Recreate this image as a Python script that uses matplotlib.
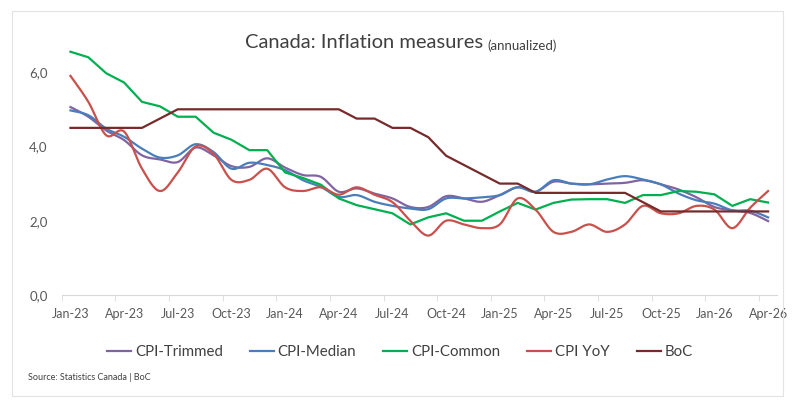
import numpy as np
import matplotlib
matplotlib.use('Agg')
import matplotlib.pyplot as plt
from matplotlib.patches import Rectangle

plt.rcParams['font.family'] = ['Lato', 'DejaVu Sans']

# monthly observations, Jan-23 .. Apr-26
months = np.arange(40)
tick_labels = ['Jan-23', 'Apr-23', 'Jul-23', 'Oct-23', 'Jan-24', 'Apr-24', 'Jul-24',
               'Oct-24', 'Jan-25', 'Apr-25', 'Jul-25', 'Oct-25', 'Jan-26', 'Apr-26']

cpi_trimmed = [5.06, 4.80, 4.43, 4.17, 3.76, 3.65, 3.58, 3.97, 3.76, 3.47,
               3.45, 3.68, 3.43, 3.23, 3.18, 2.78, 2.87, 2.73, 2.60, 2.37,
               2.37, 2.66, 2.60, 2.51, 2.69, 2.90, 2.78, 3.05, 3.00, 2.98,
               3.00, 3.02, 3.09, 2.98, 2.84, 2.63, 2.37, 2.28, 2.21, 1.99]
cpi_median = [4.97, 4.84, 4.48, 4.26, 3.94, 3.70, 3.76, 4.06, 3.85, 3.40,
              3.56, 3.50, 3.36, 3.09, 2.91, 2.64, 2.69, 2.51, 2.40, 2.33,
              2.31, 2.60, 2.60, 2.63, 2.69, 2.90, 2.78, 3.09, 3.00, 2.98,
              3.11, 3.20, 3.11, 2.98, 2.73, 2.55, 2.46, 2.28, 2.27, 2.09]
cpi_common = [6.55, 6.40, 5.97, 5.72, 5.20, 5.08, 4.80, 4.80, 4.37, 4.18,
              3.90, 3.90, 3.30, 3.15, 2.97, 2.60, 2.42, 2.31, 2.20, 1.90,
              2.09, 2.20, 2.00, 2.00, 2.25, 2.48, 2.30, 2.48, 2.57, 2.58,
              2.58, 2.48, 2.69, 2.69, 2.80, 2.78, 2.71, 2.40, 2.58, 2.49]
cpi_yoy = [5.9, 5.2, 4.3, 4.4, 3.4, 2.8, 3.3, 4.0, 3.8, 3.1,
           3.1, 3.4, 2.9, 2.8, 2.9, 2.7, 2.9, 2.7, 2.5, 2.0,
           1.6, 2.0, 1.9, 1.8, 1.9, 2.6, 2.3, 1.7, 1.7, 1.9,
           1.7, 1.9, 2.4, 2.2, 2.2, 2.4, 2.3, 1.8, 2.35, 2.8]
boc = [4.5, 4.5, 4.5, 4.5, 4.5, 4.75, 5.0, 5.0, 5.0, 5.0,
       5.0, 5.0, 5.0, 5.0, 5.0, 5.0, 4.75, 4.75, 4.5, 4.5,
       4.25, 3.75, 3.5, 3.25, 3.0, 3.0, 2.75, 2.75, 2.75, 2.75,
       2.75, 2.75, 2.5, 2.25, 2.25, 2.25, 2.25, 2.25, 2.25, 2.25]


def smooth(x, y, n=16):
    # Excel-style smoothed line (Catmull-Rom through the points)
    x = np.asarray(x, float)
    y = np.asarray(y, float)
    px = np.concatenate(([x[0]], x, [x[-1]]))
    py = np.concatenate(([y[0]], y, [y[-1]]))
    t = np.linspace(0, 1, n, endpoint=False)[:, None]
    xs, ys = [], []
    for p, q in ((px, xs), (py, ys)):
        p0, p1, p2, p3 = p[:-3], p[1:-2], p[2:-1], p[3:]
        c = 0.5 * ((2 * p1) + (-p0 + p2) * t + (2 * p0 - 5 * p1 + 4 * p2 - p3) * t ** 2
                   + (-p0 + 3 * p1 - 3 * p2 + p3) * t ** 3)
        q.extend(c.T.ravel())
        q.append(p[-2])
    return np.array(xs), np.array(ys)


fig = plt.figure(figsize=(8, 4.09), dpi=100)
ax = fig.add_axes([0.0769, 0.2787, 0.8944, 0.6357])

lw = 1.6
ax.plot(*smooth(months, cpi_trimmed), color='#8064a2', lw=lw, label='CPI-Trimmed')
ax.plot(*smooth(months, cpi_median), color='#4a7ebb', lw=lw, label='CPI-Median')
ax.plot(months, cpi_common, color='#00b050', lw=lw, label='CPI-Common')
ax.plot(*smooth(months, cpi_yoy), color='#c9504b', lw=lw, label='CPI YoY')
ax.plot(months, boc, color='#772a2a', lw=lw, label='BoC')

ax.set_xlim(-0.5, 39.5)
ax.set_ylim(0, 7)
for s in ['top', 'right', 'left']:
    ax.spines[s].set_visible(False)
ax.spines['bottom'].set_color('#d9d9d9')

ax.set_yticks([0, 2, 4, 6])
ax.set_yticklabels(['0,0', '2,0', '4,0', '6,0'])
ax.tick_params(axis='y', length=0, pad=10, labelsize=9.5, labelcolor='#595959')

ax.set_xticks(np.arange(0, 40, 3))
ax.set_xticklabels(tick_labels)
ax.set_xticks(np.arange(-0.5, 40, 3), minor=True)
ax.tick_params(axis='x', which='major', length=0, pad=9, labelsize=9, labelcolor='#595959')
ax.tick_params(axis='x', which='minor', length=4, color='#d9d9d9', direction='out')

t = fig.text(483 / 800, 1 - 43 / 409, 'Canada: Inflation measures', ha='right', va='center',
             fontsize=14.5, color='#404040')
ax.annotate('(annualized)', xy=(1, 0), xycoords=t, xytext=(3, 0), textcoords='offset points',
            ha='left', va='bottom', fontsize=9.5, color='#404040')

fig.legend(loc='center', bbox_to_anchor=(0.5, 1 - 352 / 409), ncol=5, frameon=False,
           fontsize=10.8, handlelength=1.6, handletextpad=0.25, columnspacing=1.8,
           labelcolor='#404040')

fig.text(28 / 800, 1 - 378 / 409, 'Source: Statistics Canada | BoC', ha='left', va='center',
         fontsize=6.5, color='#404040')

fig.add_artist(Rectangle((12 / 800, 1 - 396 / 409), 771 / 800, 385 / 409,
                         transform=fig.transFigure, fill=False, edgecolor='#e3e3e3', lw=0.8))

fig.savefig('out.png', dpi=100)
